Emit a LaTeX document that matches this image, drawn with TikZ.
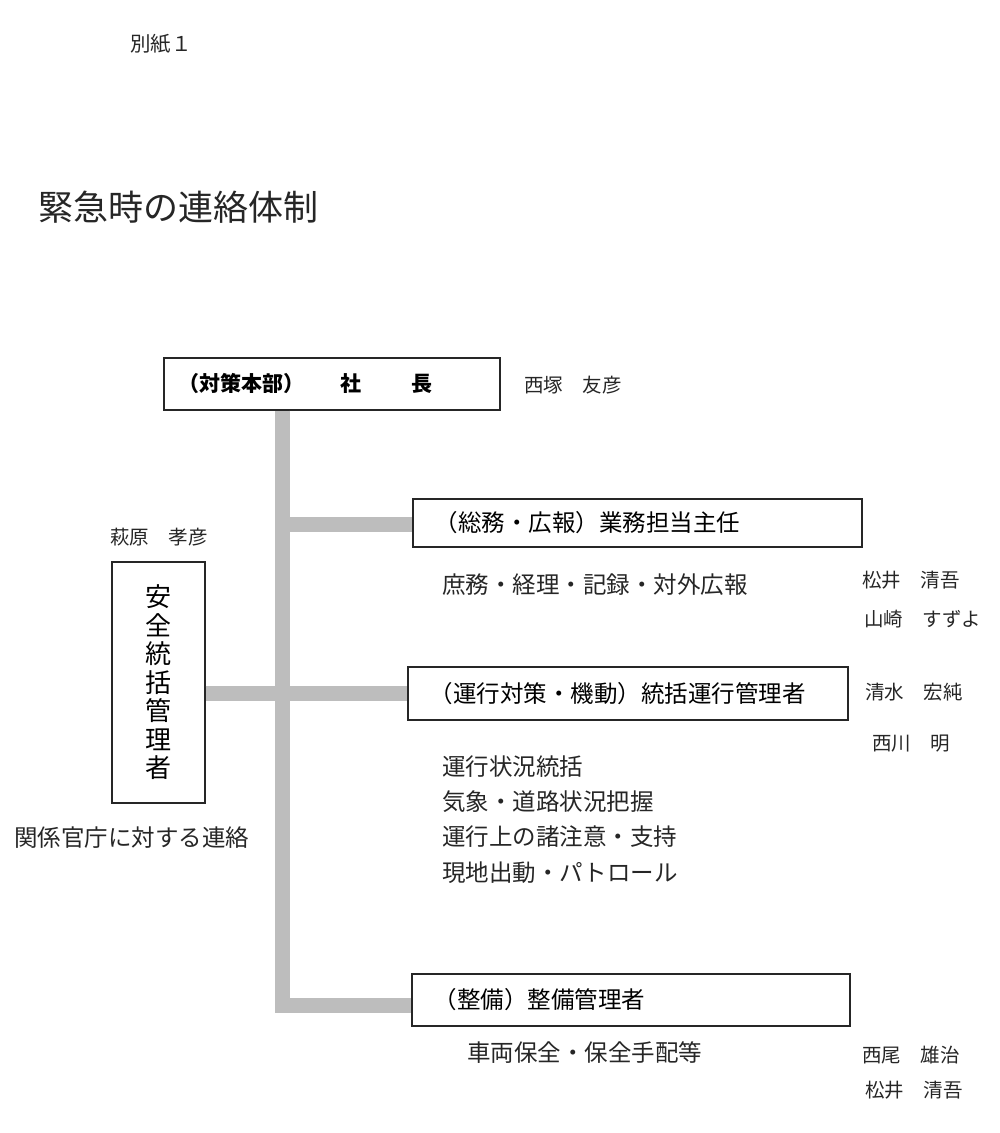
\documentclass[tikz,border=0pt]{standalone}
\usepackage{fontspec}
\setmainfont{Noto Sans CJK JP}
\tikzset{
  orgbox/.style={draw=black!85, line width=1.5pt, anchor=north west, align=left, inner ysep=0pt},
  graybar/.style={draw=black!26, line width=15pt, line join=miter, line cap=butt},
  plainlbl/.style={anchor=west, inner sep=0pt, text=black!85},
  personlbl/.style={plainlbl, font=\fontsize{19.5}{22}\selectfont},
  desclbl/.style={plainlbl, font=\fontsize{23.5}{26}\selectfont}
}
\begin{document}
\begin{tikzpicture}[x=1pt,y=-1pt]
\useasboundingbox (0,0) rectangle (1000,1133);
% headings
\node[plainlbl, font=\fontsize{20.5}{24}\selectfont] (bessi) at (130,44) {別紙１};
\node[plainlbl, font=\fontsize{35}{38}\selectfont] (title) at (38,207) {緊急時の連絡体制};
% boxes
\node[orgbox, minimum height=52pt, text width=306pt, inner xsep=15pt,
      font=\bfseries\fontsize{21}{24}\selectfont] (top) at (163,357)
      {（対策本部）\hspace{36pt}社\hspace{50pt}長};
\node[orgbox, minimum height=48pt, text width=405pt, inner xsep=22pt,
      font=\fontsize{23.5}{26}\selectfont] (b1) at (412,498) {（総務・広報）業務担当主任};
\node[orgbox, minimum height=53pt, text width=396pt, inner xsep=22pt,
      font=\fontsize{23.5}{26}\selectfont] (b2) at (407,666) {（運行対策・機動）統括運行管理者};
\node[orgbox, minimum height=52pt, text width=394pt, inner xsep=22pt,
      font=\fontsize{23.5}{26}\selectfont] (b3) at (411,973) {（整備）整備管理者};
\node[orgbox, minimum width=93pt, minimum height=241pt, align=center, inner sep=0pt,
      font=\fontsize{26}{28.5}\selectfont] (left) at (111,561)
      {安\\全\\統\\括\\管\\理\\者};
% connectors
\coordinate (j1) at (282.5,524);
\coordinate (c3) at (282.5,1005);
\draw[graybar] (top.south -| c3) -- (c3) -- (c3 -| b3.west);
\draw[graybar] (j1) -- (j1 -| b1.west);
\draw[graybar] (left.east |- b2.west) -- (b2.west);
% names
\node[personlbl] (n0) at (524,385) {西塚　友彦};
\node[personlbl] (n1) at (110,537) {萩原　孝彦};
\node[personlbl] (n2) at (862,580) {松井　清吾};
\node[personlbl] (n3) at (864,619) {山崎　すずよ};
\node[personlbl] (n4) at (865,692) {清水　宏純};
\node[personlbl] (n5) at (872,744) {西川　明};
\node[personlbl] (n6) at (862,1055) {西尾　雄治};
\node[personlbl] (n7) at (865,1090) {松井　清吾};
% descriptions
\node[desclbl] (d1) at (442,585) {庶務・経理・記録・対外広報};
\node[desclbl] (d2) at (442,767) {運行状況統括};
\node[desclbl] (d3) at (442,802) {気象・道路状況把握};
\node[desclbl] (d4) at (442,837) {運行上の諸注意・支持};
\node[desclbl] (d5) at (442,873) {現地出動・パトロール};
\node[desclbl] (d6) at (467,1053) {車両保全・保全手配等};
\node[desclbl] (d7) at (14,838) {関係官庁に対する連絡};
\end{tikzpicture}
\end{document}
